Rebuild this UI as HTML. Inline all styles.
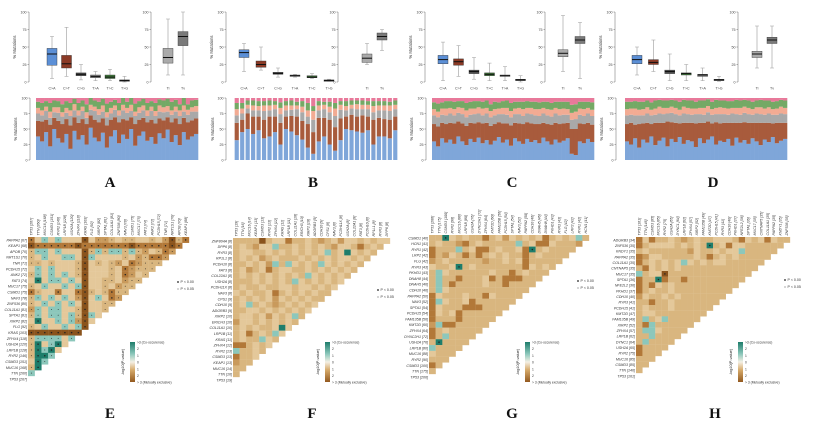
<!DOCTYPE html>
<html><head><meta charset="utf-8">
<style>
html,body{margin:0;padding:0;background:#fff;}
svg{display:block;font-family:"Liberation Sans",sans-serif;}
</style></head>
<body>
<svg id="fig" width="820" height="423" viewBox="0 0 820 423" xmlns="http://www.w3.org/2000/svg">
<defs>
<linearGradient id="cbar" x1="0" y1="0" x2="0" y2="1">
<stop offset="0" stop-color="#1e7d6b"/><stop offset="0.3" stop-color="#8cc7bb"/><stop offset="0.5" stop-color="#f4efe4"/><stop offset="0.7" stop-color="#d6aa6a"/><stop offset="1" stop-color="#93591f"/>
</linearGradient>
</defs>
</svg>
<script>
// ---------- box plot data [min,q1,median,q3,max] ----------
const catsA = ['C>A','C>T','C>G','T>A','T>C','T>G'];
const catsB = ['C>A','C>T','C>G','T>A','T>C','T>G'];
const catsC = ['C>A','C>T','C>G','T>C','T>A','T>G'];
const catsD = ['C>A','C>T','C>G','T>C','T>A','T>G'];
const boxA = [[5,24,40,48,65],[8,20,26,38,78],[3,9,11,13,25],[2,6,8,10,15],[2,5,7,10,18],[0,1,2,3,8]];
const boxB = [[15,35,42,46,55],[17,21,25,30,50],[7,11,12,14,20],[7,8,9,10,11],[5,6,7,9,12],[1,1,2,3,4]];
const boxC = [[2,26,32,38,57],[8,24,29,33,52],[4,12,15,17,35],[2,9,11,13,27],[2,8,9,10,22],[0,2,3,4,9]];
const boxD = [[10,26,32,38,50],[15,25,28,32,60],[2,12,15,17,40],[2,10,12,13,25],[2,8,10,11,20],[1,2,3,4,8]];
const titvA = [[10,27,35,48,90],[10,52,65,72,100]];
const titvB = [[25,28,34,40,55],[45,60,65,70,75]];
const titvC = [[15,36,41,46,95],[5,55,60,65,85]];
const titvD = [[20,35,40,44,80],[20,55,60,64,80]];

// ---------- per-sample spectra (%), T>G = remainder ----------
const spA_CA = [38,30,45,22,50,35,28,42,18,47,33,40,25,52,36,30,44,20,38,48,27,41,34,50,23,39,46,31,37,26,43,35,49,29,40,24,45,33,38,42];
const spA_CT = [25,32,20,35,18,28,30,24,38,22,27,26,33,20,29,31,23,36,27,21,34,25,30,19,35,26,22,30,28,33,24,29,20,32,27,34,23,28,26,25];
const spA_CG = [12,10,14,11,9,13,12,10,15,11,12,13,10,9,14,12,11,13,10,12,11,14,12,10,13,11,12,10,14,12,11,13,9,12,11,13,10,12,14,11];
const spA_TA = [9,8,7,10,8,9,7,8,9,10,8,7,9,8,7,9,10,8,9,7,8,9,8,10,7,9,8,9,7,8,10,8,9,7,8,9,10,8,7,9];
const spA_TC = [10,12,9,14,11,10,13,11,12,9,12,10,13,11,10,12,11,14,10,9,12,11,10,12,13,10,11,12,9,13,10,11,12,14,11,10,12,9,11,10];
const spB_CA = [32,45,50,42,48,35,38,45,25,50,46,40,33,20,10,30,38,25,15,32,50,48,46,44,48,25,38,38,35,48];
const spB_CT = [28,20,25,28,22,30,32,25,35,20,25,30,30,38,35,38,30,40,38,35,20,25,24,28,22,40,30,28,30,22];
const spB_CG = [12,10,8,10,10,14,10,12,14,10,10,12,14,12,20,12,14,12,18,14,10,10,12,10,12,12,12,14,14,12];
const spB_TA = [10,8,6,8,7,9,8,7,10,8,7,6,9,10,14,8,7,9,12,8,7,6,8,7,7,10,8,8,9,7];
const spB_TC = [10,9,7,8,8,7,8,6,9,7,8,6,9,12,8,7,5,8,9,6,8,7,6,7,6,8,7,7,6,7];
const spC_CA = [30,22,35,28,33,26,38,30,24,34,29,36,27,32,25,31,37,28,33,23,35,30,26,34,29,32,27,36,30,25,33,28,31,35,10,8,30,27,34,29];
const spC_CT = [28,32,25,30,27,33,24,29,31,26,30,25,32,28,30,27,24,31,26,33,25,29,32,27,30,26,31,24,28,32,27,30,28,25,40,42,29,31,26,28];
const spC_CG = [14,15,13,14,15,13,14,15,14,13,15,14,13,15,14,14,13,15,14,13,14,15,13,14,15,14,13,15,14,13,15,14,14,13,15,16,14,13,15,14];
const spC_TA = [10,9,10,11,9,10,9,10,11,10,9,10,11,9,10,10,9,10,11,10,9,10,11,9,10,10,11,9,10,11,9,10,10,9,11,12,10,11,9,10];
const spC_TC = [11,13,10,12,11,12,10,11,12,11,12,10,11,12,11,12,10,11,12,13,11,10,12,11,10,12,11,10,12,11,10,12,11,12,13,12,11,12,10,12];
const spD_CA = [30,25,35,20,33,28,38,24,31,36,22,34,29,37,26,32,30,21,35,27,33,38,25,31,29,34,23,36,28,32,26,35,30,24,33,29,37,27,31,34];
const spD_CT = [28,35,22,38,26,32,20,36,29,24,40,27,31,22,34,28,30,38,25,33,29,21,36,28,31,26,37,24,32,29,34,25,30,36,27,31,22,33,29,26];
const spD_CG = [14,13,15,14,13,15,14,13,15,14,13,15,14,13,15,14,13,15,14,13,15,14,13,15,14,13,15,14,13,15,14,13,15,14,13,15,14,13,15,14];
const spD_TC = [12,11,12,13,12,11,12,13,11,12,12,11,12,13,11,12,13,11,12,12,11,12,13,11,12,12,11,13,12,11,12,12,11,12,13,11,12,12,11,12];
const spD_TA = [10,10,11,9,10,10,9,10,11,10,9,10,10,9,11,10,10,9,10,11,10,9,10,11,10,10,9,10,11,10,10,9,10,11,10,10,9,10,11,10];

// ---------- co-occurrence heatmap rows ----------
const genesE = ['PAPPA2 [67]','KEAP1 [68]','APOB [70]','NRT1S1 [70]','TNR [71]','PCDH15 [72]','ANK2 [72]','FAT3 [74]','MUC17 [75]','CSMD1 [75]','NAV3 [78]','ZNF536 [80]','COL11A1 [81]','SPTA1 [81]','XIRP2 [82]','FLG [92]','KRAS [103]','ZFHX4 [118]','USH2A [120]','LRP1B [128]','RYR2 [146]','CSMD3 [151]','MUC16 [168]','TTN [260]','TP53 [267]'];
const genesF = ['ZNF804A [8]','DPP6 [8]','RYR3 [8]','RP1L1 [8]','PCDH10 [8]','FAT3 [8]','COL22A1 [8]','USH2A [8]','PCDH11X [8]','NAV3 [8]','CPS1 [9]','CDH10 [9]','ADGRB3 [9]','XIRP2 [10]','ERICH3 [10]','COL11A1 [10]','LRP1B [11]','KRAS [11]','ZFHX4 [12]','RYR2 [13]','CSMD3 [13]','KEAP1 [13]','MUC16 [14]','TTN [16]','TP53 [19]'];
const genesG = ['CSMD1 [40]','HCN1 [41]','RYR1 [42]','LRP2 [42]','FLG [42]','RYR3 [43]','PKHD1 [43]','DNAH8 [44]','DNAH5 [46]','CDH10 [46]','PAPPA2 [50]','NAV3 [52]','SPTA1 [54]','PCDH15 [54]','FAM135B [56]','KMT2D [60]','ZFHX4 [64]','DYNC2H1 [72]','USH2A [76]','LRP1B [80]','MUC16 [88]','RYR2 [90]','CSMD3 [100]','TTN [175]','TP53 [206]'];
const genesH = ['ADGRB3 [34]','ZNF536 [35]','KNDY1 [35]','PAPPA2 [35]','COL11A1 [35]','CNTNAP5 [35]','MUC17 [35]','SPTA1 [36]','NFE2L2 [36]','PKHD1 [37]','CDH10 [40]','RYR3 [41]','PCDH15 [41]','KMT2D [47]','FAM135B [49]','XIRP2 [52]','ZFHX4 [57]','LRP1B [62]','DYNC1 [64]','USH2A [65]','RYR2 [75]','MUC16 [85]','CSMD3 [85]','TTN [146]','TP53 [161]'];
const cellsE = ['41t1t1115133212211213524','54444445444444454444454','2tt1t11152t2tt2t231243','21t11tt15t11112132443','22121112512123143222','1t1t111251112143222','2t1t1t125111214312','1T1tt1t1511221322','21t11t1t51121322','421141145212422','2t1t1t1351t143','21t1t1t151122','3t1tt1125112','2t1tt1t25t1','1T11t1t351','21t11t1t5','55555555','2tttt1t','2T1tT1','2TtT1','2TTt','1Tt','2T','t'];
const cellsF = ['222252114221232131121211','212311t2212121231124212','21122121212121t21T1212','2121321222121212112121','221213t2t1212t12121','2132142112212121212','21212121212t121212','222121212t12121212','2122122112112121','12122142121212','2121213121212','21t2123212121','221121212121','211213121t21','3112121212','2121221T1','214212t1','2122t12','4421212','t22121','42212','3221','221','2'];
const cellsG = ['22T1212242131212142121t2','2122342122222t214412223','4222t2144212214T21222','423124242121224212','3212222232212142222','1221T2122222224121','2t12222221224212','2t2242221424442','2t24222212242','2t1222222222','4122212241','4t12214222','41222444','4121422','42224','3t4422','4212','42t','2T2','t2','1','2','4','2'];
const cellsH = ['4142212321221112412141','42111121212T2141122','2122222231221211t','43112222212421212','4212121t121211','2412121222222','t2115222222','422T42242','42412122','4212212','31221212','2242212','2122212','211222','2t21t2','24t22','2tt1','22t','2t2','4','4','2','2','2'];

const NS='http://www.w3.org/2000/svg';
const svg=document.getElementById('fig');
function mk(tag,attrs,parent,txt){const e=document.createElementNS(NS,tag);for(const k in attrs)e.setAttribute(k,attrs[k]);if(txt!==undefined)e.textContent=txt;(parent||svg).appendChild(e);return e;}

const boxFillByCat={'C>A':'#5b8fd6','C>T':'#8b3a26','C>G':'#4d4d4d','T>A':'#8a8a8a','T>C':'#3f7a3a','T>G':'#333333'};
const spColors=['#7fa6d9','#a85b3c','#a9a9a9','#f2ab93','#74a965','#e8799a'];

const panelsTop=[
 {id:'a',L:29,cx0:52,step:14.5,R:151,ti:168,tv:183,ax0:36,ax1:198,lab:110,cats:catsA,box:boxA,tt:titvA,sp:[spA_CA,spA_CT,spA_CG,spA_TA,spA_TC],bars:false},
 {id:'b',L:226,cx0:244,step:17,R:338,ti:367,tv:382,ax0:234,ax1:398,lab:313,cats:catsB,box:boxB,tt:titvB,sp:[spB_CA,spB_CT,spB_CG,spB_TA,spB_TC],bars:true},
 {id:'c',L:425,cx0:443,step:15.5,R:545,ti:563,tv:580,ax0:432,ax1:594,lab:512,cats:catsC,box:boxC,tt:titvC,sp:[spC_CA,spC_CT,spC_CG,spC_TA,spC_TC],bars:false},
 {id:'d',L:615,cx0:637,step:16.4,R:738,ti:757,tv:772,ax0:625,ax1:787,lab:713,cats:catsD,box:boxD,tt:titvD,sp:[spD_CA,spD_CT,spD_CG,spD_TA,spD_TC],bars:false}
];
const yBox=v=>82-v*0.7;
const yArea=v=>160-v*0.62;

function axis(g,x,yf,name){
  const a=mk('g',{},g);
  
  
  mk('line',{x1:x,x2:x,y1:yf(0),y2:yf(100),stroke:'#666','stroke-width':0.5},a);
  [0,25,50,75,100].forEach(t=>{
    mk('line',{x1:x-1.5,x2:x,y1:yf(t),y2:yf(t),stroke:'#666','stroke-width':0.5},a);
    mk('text',{x:x-2.5,y:yf(t)+1.3,'font-size':3.6,'text-anchor':'end',fill:'#444'},a,String(t));
  });
}
function ytitle(g,x,yc,name){
  const t=mk('text',{x:x,y:yc,'font-size':4.2,'text-anchor':'middle',fill:'#333',transform:`rotate(-90 ${x} ${yc})`},g,'% Mutations');
  
  
}
function drawBox(g,cx,b,fill,name){
  const bg=mk('g',{},g);
  
  
  mk('line',{x1:cx,x2:cx,y1:yBox(b[0]),y2:yBox(b[4]),stroke:'#999','stroke-width':0.6},bg);
  mk('line',{x1:cx-2,x2:cx+2,y1:yBox(b[0]),y2:yBox(b[0]),stroke:'#999','stroke-width':0.5},bg);
  mk('line',{x1:cx-2,x2:cx+2,y1:yBox(b[4]),y2:yBox(b[4]),stroke:'#999','stroke-width':0.5},bg);
  mk('rect',{x:cx-5,y:yBox(b[3]),width:10,height:Math.max(0.8,yBox(b[1])-yBox(b[3])),fill:fill,stroke:'#333','stroke-width':0.4},bg);
  mk('line',{x1:cx-5,x2:cx+5,y1:yBox(b[2]),y2:yBox(b[2]),stroke:'#111','stroke-width':1},bg);
}

panelsTop.forEach(p=>{
  const g=mk('g',{});
  
  
  axis(g,p.L,yBox,'panel-'+p.id+'-box-y-axis');
  ytitle(g,p.L-13,47,'panel-'+p.id+'-box-y-title');
  p.cats.forEach((c,i)=>{
    const cx=p.cx0+i*p.step;
    drawBox(g,cx,p.box[i],boxFillByCat[c],'box-'+p.id+'-'+c.replace('>','-to-'));
    const t=mk('text',{x:cx,y:89.5,'font-size':3.6,'text-anchor':'middle',fill:'#444'},g,c);
    
    
  });
  axis(g,p.R,yBox,'panel-'+p.id+'-titv-y-axis');
  [['Ti',p.ti,'#aaaaaa'],['Tv',p.tv,'#7a7a7a']].forEach((d,i)=>{
    drawBox(g,d[1],p.tt[i],d[2],'box-'+p.id+'-'+d[0]);
    const t=mk('text',{x:d[1],y:89.5,'font-size':3.6,'text-anchor':'middle',fill:'#444'},g,d[0]);
    
    
  });
  axis(g,p.L+(p.id==='b'?0:1),yArea,'panel-'+p.id+'-area-y-axis');
  ytitle(g,p.L-12,129,'panel-'+p.id+'-area-y-title');
  const n=p.sp[0].length;
  const w=(p.ax1-p.ax0)/n;
  for(let i=0;i<n;i++){
    let acc=0;
    const vals=p.sp.map(s=>s[i]);
    vals.push(Math.max(0,100-vals.reduce((a,b)=>a+b,0)));
    vals.forEach((v,k)=>{
      const x=p.bars? p.ax0+i*w+w*0.12 : p.ax0+i*w;
      const ww=p.bars? w*0.76 : w+0.3;
      const r=mk('rect',{x:x,y:yArea(Math.min(100,acc+v)),width:ww,height:yArea(acc)-yArea(Math.min(100,acc+v)),fill:spColors[k]},g);
      
      
      acc+=v;
    });
  }
  const lt=mk('text',{x:p.lab,y:187,'font-size':15,'font-weight':'bold','font-family':'Liberation Serif, serif','text-anchor':'middle',fill:'#111'},g,p.id.toUpperCase());
  
  
});

// ---------- heatmaps ----------
const codeVal={'T':-3,'t':-1.5,'w':0,'1':0.6,'2':1,'3':1.6,'4':2.3,'5':3};
function hex(h){return [parseInt(h.slice(1,3),16),parseInt(h.slice(3,5),16),parseInt(h.slice(5,7),16)];}
const stops=[[-3,'#1e7d6b'],[-1.5,'#8cc7bb'],[0,'#f4efe4'],[0.6,'#e4c89a'],[1,'#d9b67f'],[1.6,'#c99a5c'],[2.3,'#b27838'],[3,'#8a531c']];
function colorOf(v){
  for(let i=0;i<stops.length-1;i++){
    if(v<=stops[i+1][0]){const a=hex(stops[i][1]),b=hex(stops[i+1][1]);const f=(v-stops[i][0])/(stops[i+1][0]-stops[i][0]);
      return 'rgb('+a.map((c,j)=>Math.round(c+(b[j]-c)*f)).join(',')+')';}
  }
  return stops[stops.length-1][1];
}
const panelsHm=[
 {id:'e',L:28,top:237,R:189,bot:376,genes:genesE,cells:cellsE,dot:0.9,cb:130,pl:[178,282],lab:110},
 {id:'f',L:233,top:238,R:390,bot:377,genes:genesF,cells:cellsF,dot:99,cb:325,pl:[378,290],lab:312},
 {id:'g',L:429,top:235,R:589,bot:374,genes:genesG,cells:cellsG,dot:2.5,cb:525,pl:[578,281],lab:512},
 {id:'h',L:636,top:237,R:790,bot:373,genes:genesH,cells:cellsH,dot:2.5,cb:738,pl:[785,280],lab:715}
];
panelsHm.forEach(p=>{
  const g=mk('g',{});
  
  
  const n=p.genes.length;
  const cw=(p.R-p.L)/(n-1), ch=(p.bot-p.top)/(n-1);
  p.genes.forEach((gn,i)=>{
    const t=mk('text',{x:p.L-1,y:p.top+i*ch+ch*0.75,'font-size':3.6,'font-style':'italic','text-anchor':'end',fill:'#333'},g,gn);
    
    
  });
  for(let j=0;j<n-1;j++){
    const gn=p.genes[n-1-j];
    const x=p.L+j*cw+cw*0.7, y=p.top-1.5;
    const t=mk('text',{x:x,y:y,'font-size':3.6,'font-style':'italic',fill:'#333',transform:`rotate(-90 ${x} ${y})`},g,gn);
    
    
  }
  p.cells.forEach((row,i)=>{
    const len=n-1-i;
    let s=row.slice(0,len);
    while(s.length<len)s+='2';
    for(let j=0;j<len;j++){
      const v=codeVal[s[j]]!==undefined?codeVal[s[j]]:1;
      const r=mk('rect',{x:p.L+j*cw,y:p.top+i*ch,width:cw+0.15,height:ch+0.15,fill:colorOf(v)},g);
      
      
      if(Math.abs(v)>=p.dot){
        const d=mk('circle',{cx:p.L+j*cw+cw/2,cy:p.top+i*ch+ch/2,r:Math.abs(v)>=2.3?0.75:0.45,fill:'#222'},g);
        
        
      }
    }
  });
  const lg=mk('g',{},g);
  
  
  mk('rect',{x:p.cb,y:342,width:5,height:40,fill:'url(#cbar)'},lg);
  const lbls=['>3 (Co-occurence)','2','1','0','1','2','> 3 (Mutually exclusive)'];
  lbls.forEach((l,k)=>mk('text',{x:p.cb+7,y:343.5+k*6.7,'font-size':3.3,fill:'#333'},lg,l));
  const tx=p.cb-6, ty=362;
  mk('text',{x:tx,y:ty,'font-size':3.8,'text-anchor':'middle',fill:'#222',transform:`rotate(-90 ${tx} ${ty})`},lg,'-log10(P-value)');
  const pg=mk('g',{},g);
  
  
  mk('circle',{cx:p.pl[0],cy:p.pl[1],r:0.9,fill:'#222'},pg);
  mk('text',{x:p.pl[0]+2.5,y:p.pl[1]+1.2,'font-size':3.6,fill:'#333'},pg,'P < 0.00');
  mk('circle',{cx:p.pl[0],cy:p.pl[1]+7,r:0.5,fill:'#222'},pg);
  mk('text',{x:p.pl[0]+2.5,y:p.pl[1]+8.2,'font-size':3.6,fill:'#333'},pg,'P < 0.05');
  const lt=mk('text',{x:p.lab,y:418,'font-size':15,'font-weight':'bold','font-family':'Liberation Serif, serif','text-anchor':'middle',fill:'#111'},g,p.id.toUpperCase());
  
  
});
</script>
</body></html>
